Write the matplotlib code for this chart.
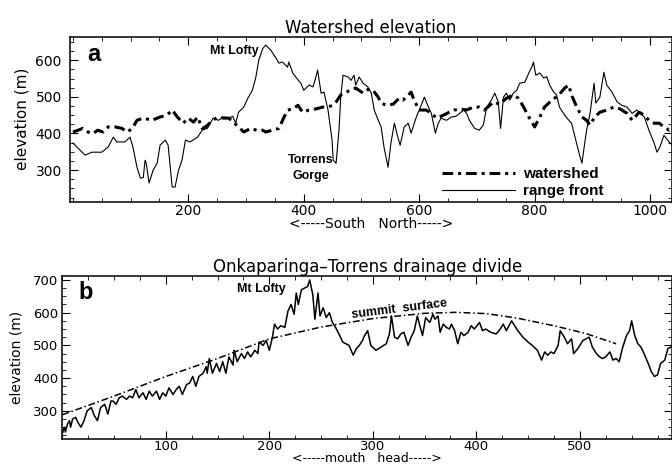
import matplotlib.pyplot as plt
from matplotlib.ticker import MultipleLocator

# panel a: watershed vs range front elevation along the ranges (km-ish units)
front_x = [0, 21, 33, 50, 61, 70, 76, 90, 99, 104, 111, 117, 122, 125, 127, 132, 139, 146,
           151, 160, 165, 172, 177, 183, 189, 195, 203, 216, 224, 233, 243, 252, 261, 270,
           277, 282, 287, 296, 303, 311, 317, 322, 329, 334, 343, 351, 357, 363, 372, 374,
           381, 386, 395, 400, 409, 416, 421, 424, 430, 435, 442, 449, 451, 456, 461, 464,
           468, 477, 482, 487, 490, 496, 503, 511, 517, 522, 529, 534, 539, 546, 551, 557,
           563, 567, 574, 581, 586, 595, 600, 609, 616, 621, 628, 633, 638, 647, 656, 664,
           677, 682, 687, 696, 704, 711, 717, 725, 731, 737, 741, 746, 751, 757, 763, 769,
           774, 783, 790, 795, 798, 802, 809, 816, 821, 826, 833, 838, 843, 850, 856, 864,
           870, 877, 882, 885, 890, 896, 903, 906, 913, 920, 925, 934, 943, 951, 960, 969,
           977, 990, 998, 1007, 1012, 1017, 1024, 1033, 1042]
front_y = [374, 341, 349, 349, 363, 390, 377, 377, 390, 363, 308, 278, 280, 327, 319, 265, 300, 319,
           368, 382, 368, 254, 254, 300, 327, 382, 377, 390, 409, 414, 442, 436, 445, 442,
           447, 428, 458, 472, 496, 518, 554, 600, 632, 641, 627, 608, 592, 595, 581, 595,
           565, 554, 537, 518, 532, 527, 554, 573, 510, 513, 464, 382, 327, 319, 409, 499,
           559, 554, 545, 559, 532, 554, 537, 527, 510, 464, 436, 418, 363, 308, 374, 428,
           390, 368, 418, 428, 401, 445, 464, 499, 472, 455, 401, 428, 442, 436, 445, 447,
           464, 455, 436, 414, 409, 423, 472, 491, 510, 486, 414, 499, 510, 491, 510, 518,
           537, 540, 565, 581, 595, 559, 565, 551, 555, 532, 513, 505, 472, 455, 442, 428,
           390, 346, 319, 354, 409, 455, 537, 483, 499, 567, 532, 513, 486, 477, 472, 455,
           464, 445, 409, 374, 349, 363, 395, 377, 363]

shed_x = [0, 9, 17, 26, 35, 43, 52, 61, 73, 85, 94, 103, 111, 122, 137, 151, 163, 172, 181,
          191, 200, 209, 216, 224, 230, 242, 252, 261, 270, 278, 287, 296, 308, 320, 329,
          334, 346, 357, 365, 372, 381, 390, 398, 409, 421, 433, 442, 450, 456, 464, 473,
          482, 490, 503, 511, 520, 529, 534, 543, 555, 565, 572, 586, 591, 600, 612, 621,
          630, 642, 652, 661, 670, 682, 694, 704, 713, 729, 739, 751, 763, 772, 781, 790,
          800, 809, 817, 830, 842, 852, 859, 864, 873, 882, 890, 896, 904, 913, 925, 937,
          948, 960, 969, 981, 990, 998, 1007, 1016, 1024, 1033, 1042]
shed_y = [404, 409, 414, 404, 400, 409, 404, 418, 418, 414, 404, 414, 436, 442, 436, 445, 450, 464, 445,
          428, 442, 431, 445, 414, 418, 436, 445, 442, 442, 431, 418, 404, 414, 408, 409,
          404, 409, 414, 442, 464, 467, 477, 458, 464, 467, 472, 472, 477, 486, 505, 513,
          518, 524, 510, 520, 518, 499, 483, 477, 480, 496, 491, 513, 491, 464, 464, 455,
          442, 450, 458, 464, 467, 464, 472, 472, 464, 486, 480, 496, 505, 496, 472, 445,
          418, 445, 472, 491, 505, 524, 532, 505, 472, 445, 436, 423, 445, 458, 464, 472,
          467, 455, 436, 458, 450, 436, 428, 428, 418, 409, 418]

# panel b: Onkaparinga-Torrens drainage divide
divide_x = [0, 2, 3, 5, 7, 8, 10, 13, 15, 18, 21, 24, 28, 31, 34, 37, 41, 44, 47,
            49, 52, 55, 58, 62, 65, 68, 71, 74, 78, 81, 84, 87, 91, 94, 97, 100, 103,
            107, 110, 113, 116, 120, 123, 126, 129, 132, 136, 139, 140, 142, 145, 149,
            152, 155, 158, 161, 165, 166, 169, 173, 176, 179, 182, 186, 189, 190, 194,
            197, 200, 203, 205, 208, 211, 215, 218, 221, 224, 226, 228, 231, 234, 237,
            239, 242, 244, 247, 249, 252, 255, 258, 261, 264, 268, 271, 274, 277, 281,
            284, 287, 290, 292, 295, 298, 303, 308, 313, 316, 318, 321, 324, 327, 330,
            334, 337, 340, 343, 345, 348, 351, 355, 358, 360, 363, 365, 368, 371, 374,
            376, 379, 382, 385, 388, 392, 395, 398, 403, 406, 409, 414, 419, 422, 426,
            429, 434, 437, 440, 445, 450, 454, 459, 463, 466, 469, 472, 475, 479, 481,
            485, 488, 492, 494, 498, 503, 506, 509, 512, 516, 519, 522, 525, 529, 532,
            535, 538, 541, 545, 548, 550, 553, 556, 559, 562, 566, 569, 572, 575, 578,
            582, 585, 588]
divide_y = [230, 250, 235, 260, 270, 250, 275, 280, 265, 250, 270, 300, 310, 285, 270, 310, 320, 290, 330,
            330, 320, 340, 345, 335, 345, 340, 365, 340, 355, 335, 360, 345, 360, 335, 355, 345, 370,
            350, 365, 375, 350, 380, 385, 405, 375, 405, 415, 435, 415, 460, 415, 445,
            420, 450, 415, 465, 440, 485, 450, 475, 460, 480, 465, 485, 475, 510, 500,
            515, 485, 525, 565, 550, 560, 555, 605, 625, 595, 660, 625, 670, 675, 680,
            700, 655, 580, 660, 590, 615, 585, 600, 570, 555, 530, 510, 505, 500, 470,
            490, 500, 515, 530, 545, 500, 485, 495, 505, 535, 590, 525, 520, 535, 540,
            500, 525, 545, 590, 565, 530, 585, 570, 595, 580, 590, 540, 565, 555, 550,
            565, 545, 505, 540, 530, 540, 560, 550, 570, 545, 550, 540, 535, 545, 565,
            545, 575, 560, 545, 525, 510, 500, 485, 455, 480, 470, 480, 475, 500, 545,
            525, 505, 520, 475, 490, 515, 520, 525, 495, 475, 465, 460, 465, 480, 455,
            460, 450, 490, 530, 545, 575, 530, 505, 495, 475, 445, 420, 405, 410, 445,
            455, 490, 495]

summit_x = [0, 50, 100, 150, 200, 250, 300, 350, 380, 410, 440, 475, 505, 535]
summit_y = [288, 345, 405, 460, 520, 556, 582, 598, 601, 597, 583, 560, 537, 505]

bold = {'family': 'Liberation Sans', 'weight': 'bold'}

fig = plt.figure(figsize=(6.72, 4.66), dpi=100)
ax1 = fig.add_axes([0.1042, 0.5672, 0.8958, 0.354])
ax2 = fig.add_axes([0.0927, 0.058, 0.9073, 0.3504])

# ---- panel a
l1, = ax1.plot(shed_x, shed_y, color='k', lw=2.2, linestyle=(0, (3.5, 1.6, 1.0, 1.6)))
l2, = ax1.plot(front_x, front_y, color='k', lw=0.8)
ax1.set_xlim(-5, 1038)
ax1.set_ylim(214, 664)
ax1.set_xticks([200, 400, 600, 800, 1000])
ax1.xaxis.set_minor_locator(MultipleLocator(50))
ax1.set_yticks([300, 400, 500, 600])
ax1.yaxis.set_minor_locator(MultipleLocator(25))
ax1.tick_params(axis='both', which='both', direction='in', top=True, right=True, labelsize=10)
ax1.tick_params(axis='x', pad=2)
ax1.tick_params(axis='y', pad=6)
ax1.tick_params(which='major', length=6)
ax1.tick_params(which='minor', length=3)
ax1.set_title('Watershed elevation', fontsize=12, pad=3)
ax1.set_ylabel('elevation (m)', fontsize=11)
ax1.yaxis.set_label_coords(-0.068, 0.5)
ax1.set_xlabel('<-----South   North----->', fontsize=10)
ax1.xaxis.set_label_coords(0.5, -0.095)
ax1.text(0.028, 0.96, 'a', transform=ax1.transAxes, fontsize=17, va='top', **bold)
ax1.text(279, 626, 'Mt Lofty', fontsize=9, ha='center', va='center', **bold)
ax1.text(412, 306, 'Torrens\nGorge', fontsize=9, ha='center', va='center', linespacing=1.4, **bold)
ax1.legend([l1, l2], ['watershed', 'range front'], loc='lower left',
           bbox_to_anchor=(0.618, 0.022), frameon=False, prop=dict(size=11, **bold),
           handlelength=4.8, handletextpad=0.5, labelspacing=0.2, borderpad=0, borderaxespad=0)

# ---- panel b
ax2.plot(divide_x, divide_y, color='k', lw=1.1)
ax2.plot(summit_x, summit_y, color='k', lw=1.1, linestyle=(0, (4.5, 1.8, 1.0, 1.8)))
ax2.set_xlim(0, 589)
ax2.set_ylim(214, 713)
ax2.set_xticks([100, 200, 300, 400, 500])
ax2.xaxis.set_minor_locator(MultipleLocator(25))
ax2.set_yticks([300, 400, 500, 600, 700])
ax2.yaxis.set_minor_locator(MultipleLocator(25))
ax2.tick_params(axis='both', which='both', direction='in', top=True, right=True, labelsize=9.5)
ax2.tick_params(axis='x', pad=1)
ax2.tick_params(axis='y', pad=3)
ax2.tick_params(which='major', length=6)
ax2.tick_params(which='minor', length=3)
ax2.set_title('Onkaparinga\u2013Torrens drainage divide', fontsize=12, pad=3)
ax2.set_ylabel('elevation (m)', fontsize=10)
ax2.yaxis.set_label_coords(-0.063, 0.5)
ax2.set_xlabel('<-----mouth   head----->', fontsize=9, va='bottom')
ax2.xaxis.set_label_coords(0.5, -0.162)
ax2.text(0.026, 0.97, 'b', transform=ax2.transAxes, fontsize=17, va='top', **bold)
ax2.text(192, 671, 'Mt Lofty', fontsize=9, ha='center', va='center', **bold)
ax2.text(326, 610, 'summit  surface', fontsize=9, ha='center', va='center', rotation=7, **bold)

for ax in (ax1, ax2):
    for s in ax.spines.values():
        s.set_linewidth(1.1)

fig.savefig('out.png', dpi=100)
